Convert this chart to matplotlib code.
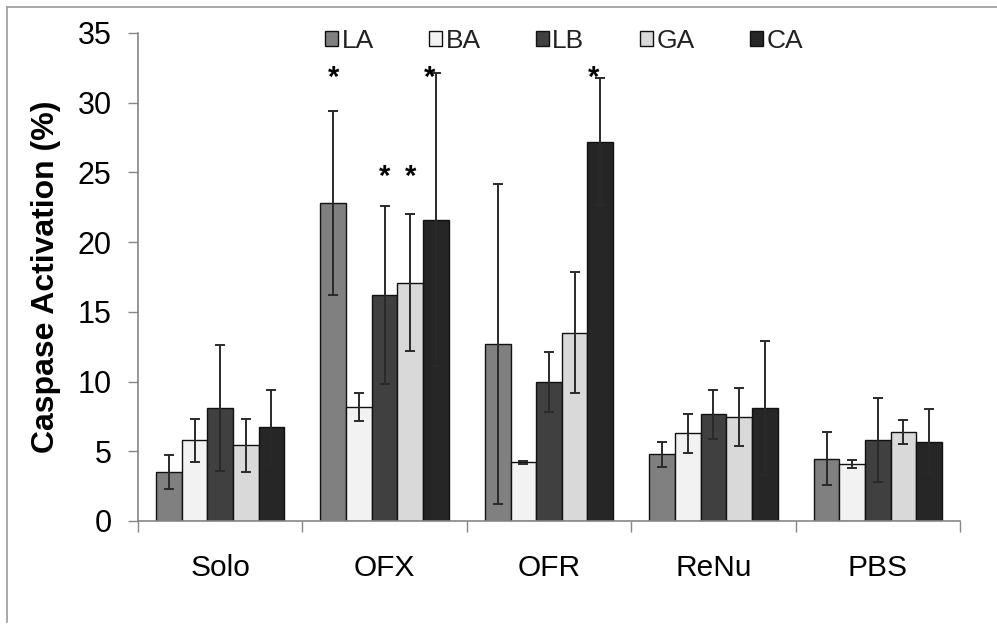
import matplotlib
matplotlib.use("Agg")
import matplotlib.pyplot as plt
import numpy as np
from matplotlib.lines import Line2D

plt.rcParams['font.family'] = ['Liberation Sans', 'DejaVu Sans']

categories = ["Solo", "OFX", "OFR", "ReNu", "PBS"]
series = ["LA", "BA", "LB", "GA", "CA"]
colors = ["#808080", "#f2f2f2", "#404040", "#d9d9d9", "#262626"]

LA = [3.5, 22.8, 12.7, 4.8, 4.45]
BA = [5.8, 8.2, 4.2, 6.3, 4.1]
LB = [8.1, 16.2, 10.0, 7.65, 5.8]
GA = [5.45, 17.1, 13.5, 7.45, 6.4]
CA = [6.75, 21.6, 27.2, 8.1, 5.7]

LA_err = [1.2, 6.6, 11.5, 0.9, 1.9]
BA_err = [1.55, 1.0, 0.12, 1.4, 0.3]
LB_err = [4.5, 6.4, 2.15, 1.75, 3.0]
GA_err = [1.9, 4.9, 4.35, 2.1, 0.85]
CA_err = [2.65, 10.5, 4.55, 4.8, 2.35]

# significance markers: (category, series, label height)
stars = [("OFX", "LA", 31.8), ("OFX", "LB", 24.7), ("OFX", "GA", 24.7),
         ("OFX", "CA", 31.8), ("OFR", "CA", 31.8)]

values = [LA, BA, LB, GA, CA]
errors = [LA_err, BA_err, LB_err, GA_err, CA_err]

W, H = 997, 628
fig = plt.figure(figsize=(W / 100, H / 100), dpi=100)
ax = fig.add_axes([138 / W, 1 - 521 / H, (960 - 138) / W, (521 - 33) / H])

x = np.arange(len(categories))
bw = 0.156
for i, (s, v, e, c) in enumerate(zip(series, values, errors, colors)):
    pos = x + (i - 2) * bw
    ax.bar(pos, v, width=bw, color=c, edgecolor="#111111", linewidth=1.0,
           label=s, zorder=2)
    ax.errorbar(pos, v, yerr=e, fmt="none", ecolor="#2a2a2a", elinewidth=1.4,
                capsize=3.8, capthick=1.4, zorder=3)

for cat, s, yv in stars:
    ci = categories.index(cat)
    si = series.index(s)
    xp = ci + (si - 2) * bw
    if s == "CA":
        xp -= 0.04
    ax.text(xp, yv, "*", ha="center", va="center", fontsize=21,
            fontweight="bold", color="black")

ax.set_xlim(-0.5, len(categories) - 0.5)
ax.set_ylim(0, 35)
ax.set_yticks(np.arange(0, 36, 5))
ax.tick_params(axis="y", labelsize=22, length=7, width=1, color="#868686",
               pad=12, direction="out")
ax.set_xticks(np.arange(-0.5, len(categories), 1.0))
ax.set_xticklabels([])
ax.tick_params(axis="x", which="major", length=8, width=1, color="#868686",
               direction="out")
ax.set_xticks(x, minor=True)
ax.set_xticklabels(categories, minor=True)
ax.tick_params(axis="x", which="minor", length=0, labelsize=21.5, pad=24)

for sp in ["top", "right"]:
    ax.spines[sp].set_visible(False)
for sp in ["left", "bottom"]:
    ax.spines[sp].set_color("#868686")
    ax.spines[sp].set_linewidth(1.2)

ax.set_ylabel("Caspase Activation (%)", fontsize=23, fontweight="bold",
              labelpad=12)

leg = ax.legend(loc="upper center", bbox_to_anchor=(0.5 + 15 / 822, 1.03),
                ncol=5, frameon=False, fontsize=19, handlelength=0.5,
                handleheight=0.5, handletextpad=0.12, columnspacing=2.1,
                borderaxespad=0)
for t in leg.get_texts():
    t.set_color("#222222")

# outer chart-area border
fig.add_artist(Line2D([7 / W, 7 / W], [1 - 622 / H, 1 - 7 / H],
                      transform=fig.transFigure, color="#9a9a9a", lw=1.2))
fig.add_artist(Line2D([7 / W, 1.0], [1 - 7 / H, 1 - 7 / H],
                      transform=fig.transFigure, color="#9a9a9a", lw=1.2))

fig.savefig("out.png", dpi=100)
